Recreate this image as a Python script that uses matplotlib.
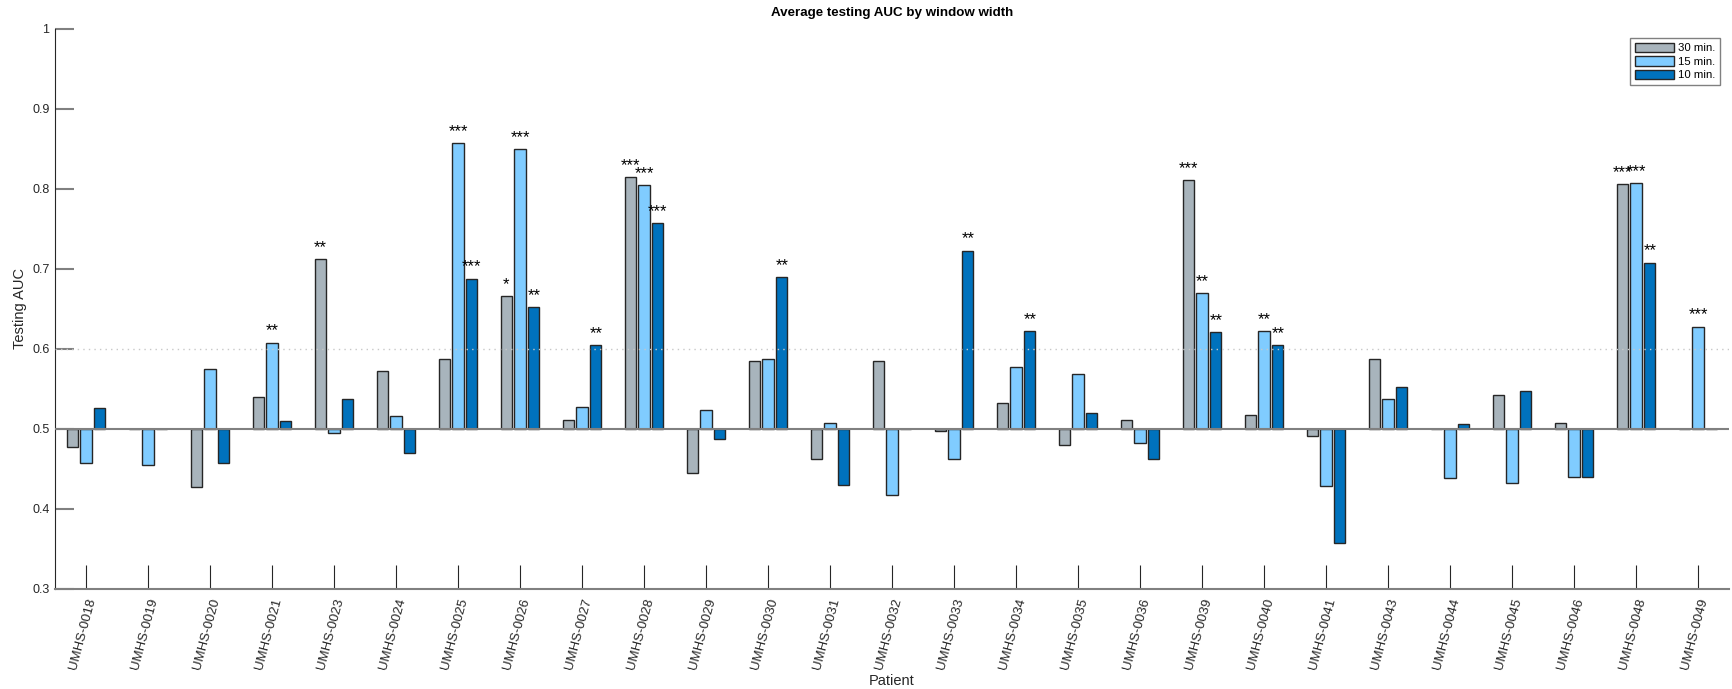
import numpy as np
import matplotlib
matplotlib.use('Agg')
import matplotlib.pyplot as plt

plt.rcParams['font.family'] = ['Liberation Sans', 'DejaVu Sans']

patients = ['UMHS-0018', 'UMHS-0019', 'UMHS-0020', 'UMHS-0021', 'UMHS-0023',
            'UMHS-0024', 'UMHS-0025', 'UMHS-0026', 'UMHS-0027', 'UMHS-0028',
            'UMHS-0029', 'UMHS-0030', 'UMHS-0031', 'UMHS-0032', 'UMHS-0033',
            'UMHS-0034', 'UMHS-0035', 'UMHS-0036', 'UMHS-0039', 'UMHS-0040',
            'UMHS-0041', 'UMHS-0043', 'UMHS-0044', 'UMHS-0045', 'UMHS-0046',
            'UMHS-0048', 'UMHS-0049']

auc_30 = [0.477, 0.500, 0.428, 0.540, 0.712, 0.572, 0.588, 0.666, 0.511,
          0.815, 0.445, 0.585, 0.462, 0.585, 0.498, 0.533, 0.480, 0.511,
          0.811, 0.517, 0.491, 0.587, 0.500, 0.542, 0.507, 0.806, 0.500]
auc_15 = [0.457, 0.455, 0.575, 0.608, 0.495, 0.516, 0.857, 0.850, 0.528,
          0.805, 0.524, 0.587, 0.508, 0.417, 0.463, 0.578, 0.569, 0.482,
          0.670, 0.622, 0.429, 0.537, 0.439, 0.433, 0.440, 0.807, 0.628]
auc_10 = [0.526, 0.500, 0.458, 0.510, 0.538, 0.470, 0.688, 0.652, 0.605,
          0.757, 0.488, 0.690, 0.430, 0.500, 0.723, 0.622, 0.520, 0.462,
          0.621, 0.605, 0.357, 0.553, 0.506, 0.548, 0.440, 0.708, 0.500]

stars_30 = ['', '', '', '', '**', '', '', '*', '', '***', '', '', '', '', '',
            '', '', '', '***', '', '', '', '', '', '', '***', '']
stars_15 = ['', '', '', '**', '', '', '***', '***', '', '***', '', '', '', '',
            '', '', '', '', '**', '**', '', '', '', '', '', '***', '***']
stars_10 = ['', '', '', '', '', '', '***', '**', '**', '***', '', '**', '', '',
            '**', '**', '', '', '**', '**', '', '', '', '', '', '**', '']

labels = ['30 min.', '15 min.', '10 min.']
colors = ['#a8b4bc', '#80ccff', '#0072bd']
base = 0.5

fig = plt.figure(figsize=(17.33, 6.89), dpi=100)
ax = fig.add_axes([0.03174, 0.14514, 0.96595, 0.8128])

x = np.arange(1, len(patients) + 1)
step = 0.2222
width = 0.178
series = [auc_30, auc_15, auc_10]
stars = [stars_30, stars_15, stars_10]
for i, (vals, col, lab) in enumerate(zip(series, colors, labels)):
    vals = np.array(vals)
    pos = x + (i - 1) * step
    ax.bar(pos, vals - base, width, bottom=base, color=col, edgecolor='#262626',
           linewidth=1.0, label=lab, zorder=2)
    for p, v, s in zip(pos, vals, stars[i]):
        if s:
            ax.text(p, v + 0.005, s, ha='center', va='bottom', fontsize=12,
                    color='black', zorder=5)

ax.axhline(base, color='#808080', lw=1.5, zorder=3)
ax.axhline(0.6, color='#c8c8c8', lw=1.0, ls=(0, (1, 3)), zorder=4)

ax.set_xlim(0.5, len(patients) + 0.5)
ax.set_ylim(0.3, 1.0)
ax.set_yticks(np.arange(0.3, 1.01, 0.1))
ax.set_yticklabels(['0.3', '0.4', '0.5', '0.6', '0.7', '0.8', '0.9', '1'])
ax.set_xticks(x)
ax.set_xticklabels(patients, rotation=75, ha='right', va='top',
                   rotation_mode='anchor')

ax.spines['top'].set_visible(False)
ax.spines['right'].set_visible(False)
ax.spines['left'].set_color('#262626')
ax.spines['bottom'].set_color('#808080')
ax.spines['bottom'].set_linewidth(1.5)
ax.tick_params(axis='y', direction='in', length=14, width=1.5, color='#808080',
               labelsize=9, labelcolor='#262626', pad=4)
ax.tick_params(axis='x', direction='in', length=17, width=0.8, color='#262626',
               labelsize=9.5, labelcolor='#262626', pad=6)

ax.set_title('Average testing AUC by window width', fontsize=9.6,
             fontweight='bold', pad=9)
ax.set_ylabel('Testing AUC', fontsize=10.5, color='#262626')
ax.yaxis.set_label_coords(-0.0167, 0.5)
ax.set_xlabel('Patient', fontsize=10.5, color='#262626')
ax.xaxis.set_label_coords(0.5, -0.152)

leg = ax.legend(loc='upper right', fontsize=8.2, handlelength=3.45,
                handleheight=0.9, labelspacing=0.25, handletextpad=0.35,
                borderpad=0.4, borderaxespad=0.8, fancybox=False,
                edgecolor='#808080', framealpha=1)
leg.get_frame().set_linewidth(1.0)

fig.savefig('out.png', dpi=100)
